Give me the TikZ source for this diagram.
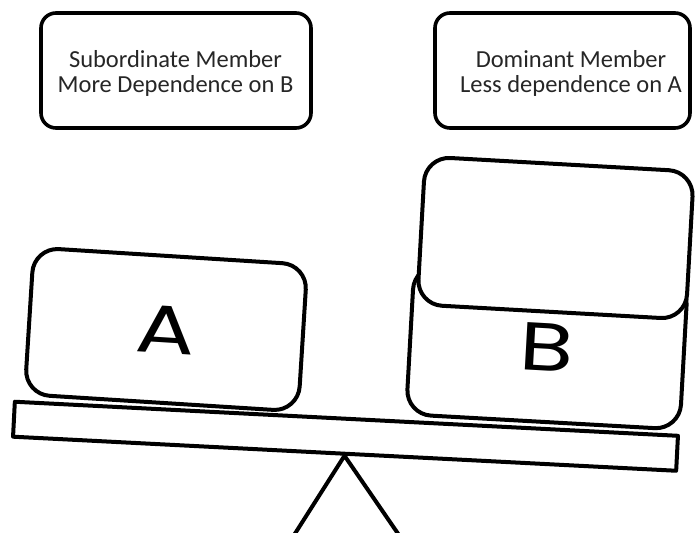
\documentclass[tikz,border=0pt]{standalone}
\usepackage{fontspec}
\setmainfont{Carlito}
\newfontfamily\blockfont[FakeStretch=1.3]{Poppins}
\begin{document}
\begin{tikzpicture}[x=1pt,y=1pt,
  line join=round,
  labelbox/.style={draw=black, line width=3.6pt, rounded corners=15pt,
    minimum width=#1, minimum height=115pt, inner sep=0pt},
  labeltext/.style={align=center, text=black!85,
    font=\fontsize{24.5}{25}\selectfont},
  block/.style={draw=black, fill=white, line width=4pt, rounded corners=25pt,
    inner sep=0pt, font=\blockfont\fontsize{68}{68}\selectfont},
  beam/.style={draw=black, fill=white, line width=4pt,
    minimum width=664pt, minimum height=35pt, inner sep=0pt},
  leg/.style={draw=black, line width=4pt}]

\clip (0,0) rectangle (695,532);
\fill[white] (0,0) rectangle (695,532);

% captions above the two sides
\node[labelbox=270pt] (subbox) at (176,461.5) {};
\node[labeltext] (subtext) at (175.5,459) {Subordinate Member\\More Dependence on B};
\node[labelbox=255pt] (dombox) at (562.5,461.5) {};
\node[labeltext] (domtext) at (571,459) {Dominant Member\\Less dependence on A};

% pivot under the beam
\node[beam, rotate=-2.94] (beam) at (345.5,95.75) {};
\coordinate (footL) at (292.2,-6);
\coordinate (footR) at (401,-6);
\draw[leg] (footL) -- (beam.south) -- (footR);

% weights on the beam
\node[block, minimum width=274pt, minimum height=147pt, rotate=-3.6] (A) at (166,202.5) {A};
\node[block, minimum width=274pt, minimum height=150pt, rotate=-3.2] (B) at (547,185) {B};
\node[block, minimum width=269pt, minimum height=148pt, rotate=-3.2] (Btop) at (555.5,294) {};
\end{tikzpicture}
\end{document}
